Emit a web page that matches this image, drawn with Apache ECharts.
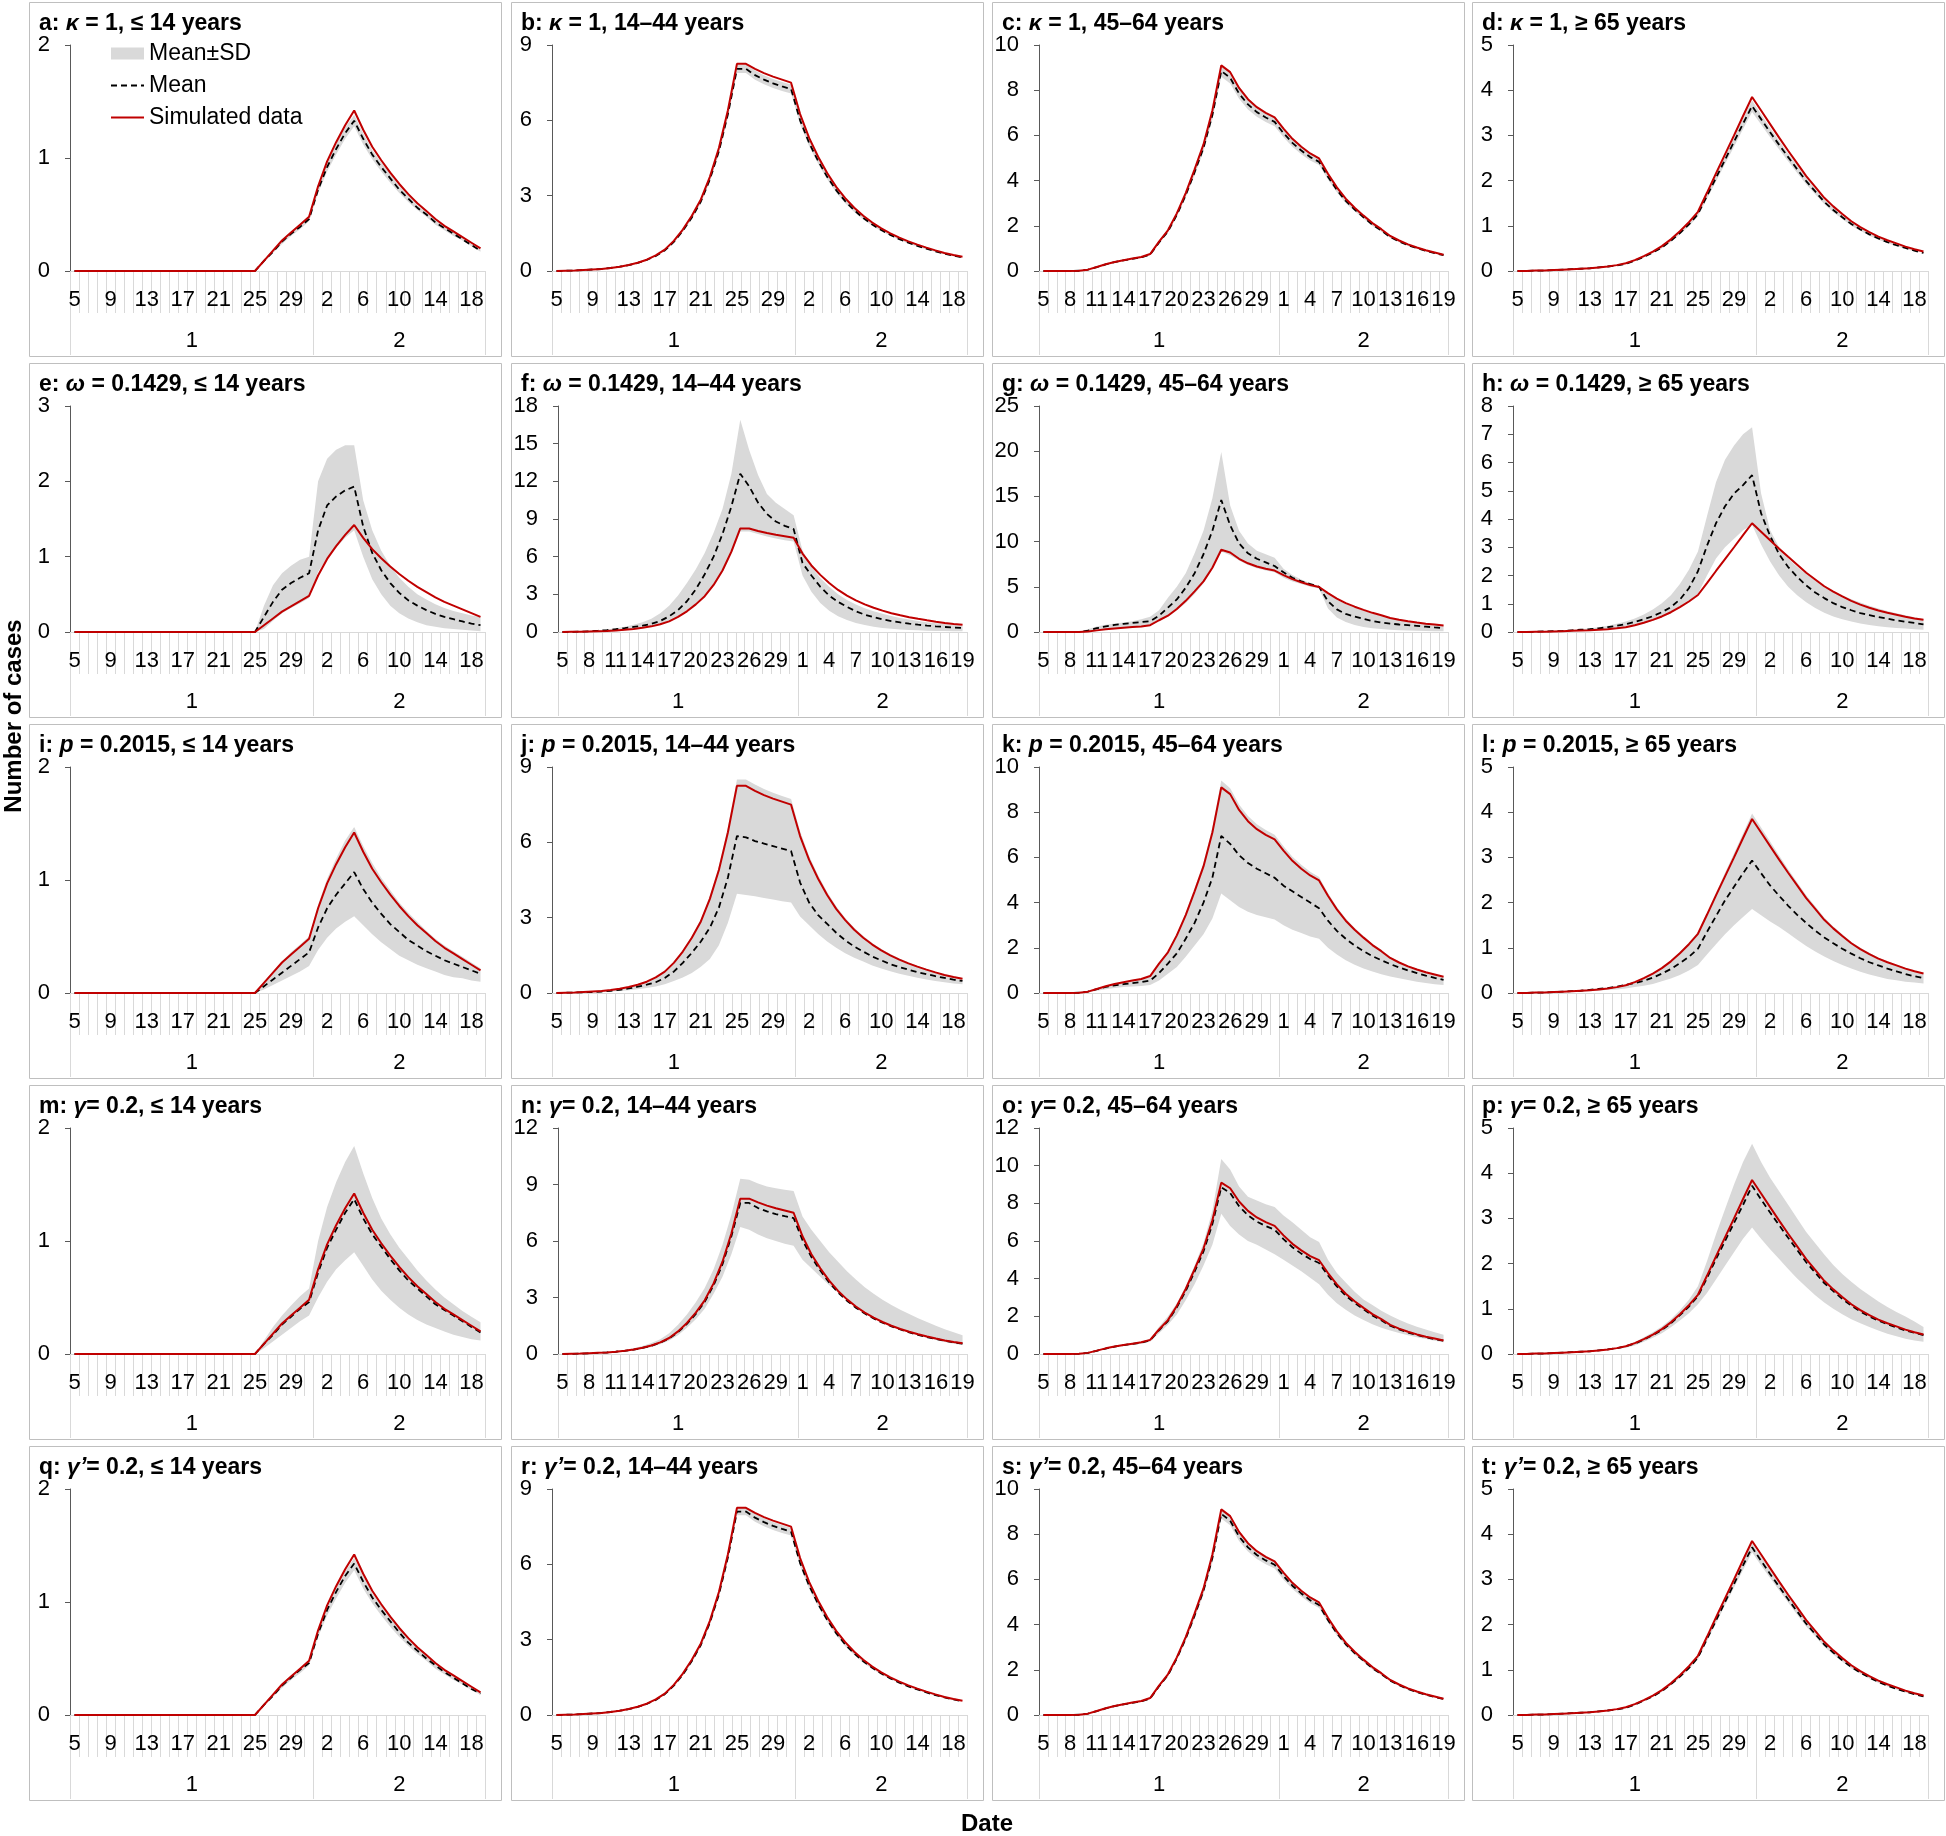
<!DOCTYPE html>
<html><head><meta charset="utf-8">
<script src="https://cdn.jsdelivr.net/npm/echarts/dist/echarts.min.js"></script>
<style>html,body{margin:0;padding:0;background:#fff}#c{width:1946px;height:1836px}</style>
</head><body><div id="c"></div><script>
// ---- categories / tick labels ----
const days=['5','6','7','8','9','10','11','12','13','14','15','16','17','18','19','20','21','22','23','24','25','26','27','28','29','30','31','1','2','3','4','5','6','7','8','9','10','11','12','13','14','15','16','17','18','19'];
const months=['1','2'];
const monthStart=[0,27];
const ageLabels=['≤ 14 years','14–44 years','45–64 years','≥ 65 years'];
const paramSym=['κ','ω','p','γ','γ’'];
const paramEq=[' = 1',' = 0.1429',' = 0.2015','= 0.2','= 0.2'];
const panelIds=['a','b','c','d','e','f','g','h','i','j','k','l','m','n','o','p','q','r','s','t'];
const yMax=[2,9,10,5, 3,18,25,8, 2,9,10,5, 2,12,12,5, 2,9,10,5];
const yStep=[1,3,2,1, 1,3,5,1, 1,3,2,1, 1,3,2,1, 1,3,2,1];
const labelEvery=[4,4,3,4, 4,3,3,4, 4,4,3,4, 4,3,3,4, 4,4,3,4];

// ---- simulated data (same for every row, one per age group) ----
const sim1=[0,0,0,0,0,0,0,0,0,0, 0,0,0,0,0,0,0,0,0,0, 0,0.09,0.18,0.27,0.34,0.41,0.48,0.75,0.97,1.14, 1.29,1.42,1.25,1.10,0.98,0.87,0.77,0.68,0.60,0.53, 0.46,0.40,0.35,0.30,0.25,0.20];
const sim2=[0,0.01,0.02,0.04,0.06,0.08,0.12,0.17,0.24,0.33, 0.45,0.62,0.85,1.2,1.65,2.2,2.85,3.75,4.9,6.4, 8.25,8.25,8.05,7.88,7.74,7.62,7.5,6.25,5.3,4.55, 3.9,3.35,2.9,2.52,2.2,1.93,1.7,1.5,1.33,1.18, 1.05,0.93,0.82,0.72,0.64,0.57];
const sim3=[0,0,0,0,0.01,0.06,0.18,0.3,0.4,0.48, 0.55,0.62,0.75,1.3,1.8,2.55,3.45,4.5,5.6,7.1, 9.1,8.8,8.1,7.6,7.25,7.0,6.8,6.3,5.85,5.5, 5.2,4.98,4.3,3.7,3.2,2.8,2.45,2.12,1.85,1.55, 1.35,1.18,1.04,0.92,0.82,0.72];
const sim4=[0,0,0.01,0.01,0.02,0.03,0.04,0.05,0.06,0.08, 0.1,0.13,0.17,0.24,0.33,0.43,0.55,0.7,0.88,1.08, 1.31,1.73,2.16,2.58,3.0,3.43,3.85,3.55,3.25,2.95, 2.66,2.38,2.1,1.86,1.62,1.43,1.26,1.1,0.97,0.86, 0.76,0.68,0.61,0.54,0.48,0.43];

// ---- row 1: kappa = 1 ----
const aMean=[0,0,0,0,0,0,0,0,0,0, 0,0,0,0,0,0,0,0,0,0, 0,0.09,0.17,0.26,0.33,0.39,0.46,0.72,0.92,1.08, 1.22,1.33,1.17,1.03,0.92,0.82,0.72,0.64,0.56,0.5, 0.43,0.38,0.33,0.28,0.23,0.18];
const aLo=[0,0,0,0,0,0,0,0,0,0, 0,0,0,0,0,0,0,0,0,0, 0,0.08,0.16,0.24,0.31,0.37,0.44,0.69,0.88,1.03, 1.17,1.28,1.12,0.99,0.88,0.78,0.69,0.61,0.54,0.48, 0.41,0.36,0.31,0.27,0.22,0.17];
const aHi=[0,0,0,0,0,0,0,0,0,0, 0,0,0,0,0,0,0,0,0,0, 0,0.1,0.18,0.28,0.35,0.41,0.48,0.75,0.96,1.13, 1.27,1.38,1.22,1.07,0.96,0.86,0.75,0.67,0.58,0.52, 0.45,0.4,0.35,0.29,0.24,0.19];
const bMean=[0,0.01,0.02,0.04,0.06,0.08,0.12,0.17,0.23,0.32, 0.44,0.6,0.82,1.16,1.6,2.13,2.77,3.65,4.77,6.25, 8.05,8.05,7.8,7.62,7.47,7.35,7.25,6.0,5.1,4.38, 3.75,3.22,2.78,2.42,2.11,1.85,1.63,1.44,1.27,1.13, 1.0,0.89,0.78,0.69,0.61,0.54];
const bLo=[0,0.01,0.02,0.04,0.06,0.08,0.12,0.16,0.22,0.31, 0.43,0.58,0.8,1.12,1.55,2.07,2.7,3.55,4.65,6.1, 7.88,7.88,7.62,7.44,7.29,7.17,7.07,5.85,4.97,4.27, 3.65,3.13,2.7,2.35,2.05,1.8,1.58,1.4,1.23,1.1, 0.97,0.86,0.76,0.67,0.59,0.52];
const bHi=[0,0.01,0.02,0.04,0.06,0.08,0.12,0.18,0.24,0.33, 0.45,0.62,0.84,1.2,1.65,2.19,2.84,3.75,4.89,6.4, 8.22,8.22,7.98,7.8,7.65,7.53,7.43,6.15,5.23,4.49, 3.85,3.31,2.86,2.49,2.17,1.9,1.68,1.48,1.31,1.16, 1.03,0.92,0.8,0.71,0.63,0.56];
const cMean=[0,0,0,0,0.01,0.06,0.17,0.29,0.39,0.47, 0.54,0.6,0.73,1.26,1.75,2.48,3.35,4.37,5.45,6.9, 8.85,8.55,7.85,7.37,7.03,6.79,6.6,6.1,5.67,5.33, 5.04,4.83,4.17,3.59,3.1,2.72,2.38,2.05,1.79,1.5, 1.31,1.14,1.01,0.89,0.79,0.7];
const cLo=[0,0,0,0,0.01,0.05,0.16,0.28,0.38,0.45, 0.52,0.58,0.71,1.22,1.7,2.41,3.25,4.24,5.29,6.7, 8.6,8.3,7.62,7.15,6.82,6.59,6.4,5.92,5.5,5.17, 4.89,4.69,4.05,3.48,3.0,2.64,2.31,1.99,1.74,1.46, 1.27,1.11,0.98,0.86,0.77,0.68];
const cHi=[0,0,0,0,0.01,0.06,0.18,0.3,0.4,0.48, 0.56,0.62,0.75,1.3,1.8,2.55,3.45,4.5,5.6,7.1, 9.1,8.8,8.08,7.59,7.24,6.99,6.8,6.28,5.84,5.49, 5.19,4.97,4.29,3.7,3.19,2.8,2.45,2.11,1.84,1.55, 1.35,1.17,1.04,0.92,0.81,0.72];
const dMean=[0,0,0.01,0.01,0.02,0.03,0.04,0.05,0.06,0.08, 0.1,0.12,0.16,0.23,0.31,0.41,0.52,0.67,0.84,1.03, 1.26,1.66,2.06,2.46,2.86,3.26,3.65,3.36,3.07,2.79, 2.52,2.25,1.99,1.76,1.53,1.35,1.19,1.04,0.92,0.81, 0.72,0.64,0.57,0.51,0.45,0.4];
const dLo=[0,0,0.01,0.01,0.02,0.03,0.04,0.05,0.06,0.08, 0.1,0.12,0.15,0.22,0.3,0.39,0.5,0.64,0.81,0.99, 1.21,1.6,1.98,2.37,2.75,3.14,3.52,3.24,2.96,2.69, 2.43,2.17,1.92,1.7,1.48,1.3,1.15,1.0,0.89,0.78, 0.69,0.62,0.55,0.49,0.43,0.38];
const dHi=[0,0,0.01,0.01,0.02,0.03,0.04,0.05,0.06,0.08, 0.1,0.13,0.17,0.24,0.32,0.43,0.54,0.7,0.87,1.07, 1.3,1.71,2.13,2.54,2.96,3.37,3.77,3.47,3.17,2.88, 2.6,2.33,2.06,1.82,1.58,1.4,1.23,1.08,0.95,0.84, 0.75,0.66,0.59,0.53,0.47,0.42];

// ---- row 2: omega = 0.1429 ----
const eMean=[0,0,0,0,0,0,0,0,0,0, 0,0,0,0,0,0,0,0,0,0, 0,0.2,0.4,0.56,0.65,0.72,0.78,1.35,1.68,1.8, 1.88,1.93,1.4,1.05,0.82,0.65,0.52,0.42,0.35,0.29, 0.24,0.2,0.17,0.14,0.11,0.09];
const eLo=[0,0,0,0,0,0,0,0,0,0, 0,0,0,0,0,0,0,0,0,0, 0,0.04,0.15,0.25,0.32,0.38,0.45,0.8,0.98,1.12, 1.25,1.35,1.0,0.7,0.5,0.35,0.25,0.18,0.13,0.09, 0.07,0.05,0.04,0.03,0.02,0.01];
const eHi=[0,0,0,0,0,0,0,0,0,0, 0,0,0,0,0,0,0,0,0,0, 0,0.35,0.62,0.78,0.88,0.96,1.0,2.0,2.3,2.42, 2.48,2.48,1.75,1.35,1.08,0.88,0.72,0.6,0.5,0.43, 0.37,0.32,0.28,0.25,0.22,0.2];
const fMean=[0,0.01,0.03,0.06,0.1,0.15,0.22,0.3,0.4,0.5, 0.65,0.88,1.25,1.75,2.45,3.4,4.6,6.0,7.8,10.0, 12.6,11.6,10.3,9.4,8.8,8.45,8.2,5.5,4.5,3.6, 2.9,2.4,2.0,1.65,1.38,1.18,1.0,0.87,0.76,0.66, 0.58,0.51,0.45,0.4,0.36,0.32];
const fLo=[0,0.01,0.02,0.04,0.07,0.1,0.15,0.2,0.27,0.35, 0.45,0.6,0.82,1.15,1.6,2.15,2.8,3.65,4.75,6.2, 8.0,8.0,7.8,7.6,7.45,7.3,7.2,4.5,3.2,2.3, 1.7,1.25,0.95,0.72,0.55,0.42,0.32,0.25,0.2,0.16, 0.13,0.1,0.08,0.07,0.06,0.05];
const fHi=[0,0.02,0.05,0.09,0.14,0.2,0.3,0.42,0.58,0.78, 1.05,1.5,2.1,2.9,3.9,5.0,6.3,7.9,9.8,12.6, 16.9,14.5,12.5,11.0,10.3,9.8,9.3,6.5,5.2,4.3, 3.6,3.0,2.55,2.2,1.9,1.65,1.45,1.28,1.12,1.0, 0.88,0.78,0.7,0.63,0.56,0.5];
const gMean=[0,0,0,0,0.01,0.15,0.42,0.62,0.78,0.9, 1.0,1.1,1.2,1.8,2.7,3.6,4.9,6.5,8.6,11.2, 14.6,11.8,9.8,8.7,8.1,7.7,7.3,6.6,6.0,5.6, 5.3,5.0,3.4,2.5,2.0,1.7,1.45,1.22,1.05,0.93, 0.83,0.75,0.67,0.59,0.51,0.44];
const gLo=[0,0,0,0,0,0.05,0.2,0.3,0.4,0.48, 0.55,0.62,0.72,1.2,1.7,2.4,3.2,4.2,5.4,7.0, 8.9,8.5,7.9,7.4,7.05,6.8,6.6,6.0,5.6,5.3, 5.0,4.8,2.6,1.6,1.1,0.78,0.56,0.42,0.32,0.25, 0.2,0.16,0.13,0.11,0.09,0.08];
const gHi=[0,0,0,0,0.02,0.3,0.6,0.8,0.95,1.05, 1.2,1.4,1.7,2.4,3.8,5.0,6.5,8.7,11.2,14.8, 19.9,14.0,11.2,9.8,9.0,8.6,8.2,7.0,6.3,5.8, 5.4,5.1,4.2,3.6,3.1,2.7,2.35,2.05,1.8,1.58, 1.38,1.22,1.08,0.96,0.85,0.75];
const hMean=[0,0,0.01,0.02,0.03,0.04,0.06,0.08,0.1,0.13, 0.17,0.22,0.28,0.36,0.45,0.56,0.7,0.88,1.15,1.55, 2.15,3.05,3.85,4.45,4.9,5.2,5.55,4.2,3.4,2.75, 2.3,1.95,1.65,1.4,1.2,1.02,0.88,0.77,0.67,0.6, 0.53,0.47,0.41,0.36,0.32,0.27];
const hLo=[0,0,0.01,0.01,0.02,0.03,0.04,0.05,0.06,0.08, 0.1,0.13,0.17,0.23,0.31,0.4,0.52,0.66,0.86,1.08, 1.35,2.0,2.6,3.0,3.3,3.6,3.8,3.1,2.5,2.0, 1.6,1.3,1.05,0.85,0.68,0.55,0.45,0.37,0.3,0.25, 0.2,0.17,0.14,0.12,0.1,0.08];
const hHi=[0,0.01,0.01,0.02,0.04,0.05,0.07,0.1,0.13,0.17, 0.22,0.29,0.37,0.48,0.62,0.8,1.02,1.3,1.7,2.2, 2.85,4.1,5.3,6.1,6.6,7.0,7.25,4.9,3.6,3.0, 2.6,2.3,2.05,1.82,1.62,1.45,1.3,1.16,1.04,0.93, 0.83,0.74,0.66,0.59,0.52,0.46];

// ---- row 3: p = 0.2015 ----
const iMean=[0,0,0,0,0,0,0,0,0,0, 0,0,0,0,0,0,0,0,0,0, 0,0.06,0.12,0.18,0.24,0.3,0.36,0.58,0.75,0.87, 0.97,1.07,0.92,0.8,0.7,0.61,0.54,0.47,0.42,0.37, 0.33,0.29,0.26,0.23,0.2,0.17];
const iLo=[0,0,0,0,0,0,0,0,0,0, 0,0,0,0,0,0,0,0,0,0, 0,0.03,0.07,0.11,0.15,0.19,0.24,0.38,0.49,0.57, 0.63,0.68,0.6,0.52,0.45,0.39,0.33,0.29,0.25,0.22, 0.19,0.16,0.14,0.13,0.11,0.1];
const iHi=[0,0,0,0,0,0,0,0,0,0, 0,0,0,0,0,0,0,0,0,0, 0,0.1,0.19,0.28,0.36,0.43,0.5,0.78,1.01,1.19, 1.35,1.47,1.3,1.15,1.02,0.91,0.8,0.71,0.63,0.55, 0.48,0.42,0.37,0.32,0.27,0.22];
const jMean=[0,0.01,0.02,0.03,0.04,0.06,0.09,0.13,0.18,0.25, 0.33,0.43,0.6,0.85,1.2,1.6,2.05,2.6,3.4,4.6, 6.25,6.2,6.05,5.95,5.85,5.75,5.65,4.4,3.6,3.1, 2.75,2.4,2.1,1.85,1.65,1.45,1.3,1.15,1.03,0.93, 0.83,0.75,0.67,0.6,0.53,0.48];
const jLo=[0,0,0.01,0.02,0.03,0.04,0.06,0.08,0.11,0.15, 0.2,0.26,0.35,0.48,0.62,0.8,1.05,1.35,1.9,2.8, 3.95,3.9,3.85,3.78,3.72,3.65,3.6,3.05,2.7,2.35, 2.05,1.8,1.58,1.4,1.25,1.1,0.98,0.87,0.77,0.69, 0.61,0.54,0.48,0.43,0.38,0.35];
const jHi=[0,0.01,0.02,0.04,0.06,0.08,0.12,0.18,0.25,0.34, 0.46,0.64,0.88,1.24,1.7,2.27,2.94,3.86,5.05,6.6, 8.5,8.5,8.3,8.12,7.97,7.85,7.73,6.44,5.46,4.69, 4.02,3.45,2.99,2.6,2.27,1.99,1.75,1.55,1.37,1.22, 1.08,0.96,0.84,0.74,0.66,0.59];
const kMean=[0,0,0,0,0.01,0.06,0.17,0.27,0.34,0.39, 0.44,0.48,0.55,0.88,1.3,1.75,2.4,3.1,4.0,5.1, 6.95,6.6,6.1,5.75,5.5,5.3,5.1,4.75,4.5,4.25, 4.0,3.75,3.2,2.75,2.4,2.1,1.85,1.63,1.45,1.28, 1.13,1.0,0.88,0.77,0.67,0.58];
const kLo=[0,0,0,0,0,0.03,0.1,0.17,0.22,0.26, 0.29,0.31,0.35,0.55,0.85,1.15,1.6,2.1,2.6,3.3, 4.4,4.1,3.8,3.6,3.45,3.35,3.25,3.0,2.8,2.65, 2.5,2.4,2.0,1.7,1.45,1.25,1.08,0.95,0.83,0.73, 0.65,0.57,0.5,0.44,0.39,0.35];
const kHi=[0,0,0,0,0.01,0.06,0.19,0.31,0.41,0.49, 0.57,0.64,0.77,1.34,1.85,2.63,3.55,4.64,5.77,7.31, 9.4,9.06,8.34,7.83,7.47,7.21,7.0,6.49,6.03,5.67, 5.36,5.13,4.43,3.81,3.3,2.88,2.52,2.18,1.91,1.6, 1.39,1.22,1.07,0.95,0.84,0.74];
const lMean=[0,0,0.01,0.01,0.02,0.03,0.04,0.05,0.07,0.09, 0.11,0.14,0.18,0.22,0.27,0.34,0.43,0.53,0.66,0.8, 0.98,1.35,1.7,2.05,2.35,2.65,2.93,2.65,2.38,2.15, 1.93,1.73,1.55,1.38,1.23,1.1,0.98,0.87,0.77,0.68, 0.61,0.54,0.48,0.42,0.37,0.33];
const lLo=[0,0,0.01,0.01,0.01,0.02,0.02,0.03,0.04,0.05, 0.07,0.08,0.1,0.13,0.16,0.2,0.26,0.32,0.4,0.5, 0.62,0.85,1.08,1.3,1.5,1.68,1.86,1.72,1.58,1.46, 1.32,1.18,1.04,0.92,0.81,0.71,0.62,0.54,0.47,0.41, 0.36,0.31,0.28,0.25,0.23,0.21];
const lHi=[0,0,0.01,0.01,0.02,0.03,0.04,0.05,0.06,0.08, 0.1,0.13,0.18,0.25,0.34,0.44,0.57,0.72,0.91,1.11, 1.35,1.78,2.22,2.66,3.09,3.53,3.97,3.66,3.35,3.04, 2.74,2.45,2.16,1.92,1.67,1.47,1.3,1.13,1.0,0.89, 0.78,0.7,0.63,0.56,0.49,0.44];

// ---- row 4: gamma = 0.2 ----
const mMean=[0,0,0,0,0,0,0,0,0,0, 0,0,0,0,0,0,0,0,0,0, 0,0.09,0.17,0.26,0.33,0.4,0.46,0.72,0.94,1.1, 1.25,1.37,1.2,1.06,0.95,0.84,0.74,0.65,0.58,0.51, 0.44,0.39,0.34,0.29,0.24,0.19];
const mLo=[0,0,0,0,0,0,0,0,0,0, 0,0,0,0,0,0,0,0,0,0, 0,0.05,0.11,0.17,0.23,0.29,0.34,0.5,0.64,0.75, 0.83,0.9,0.78,0.66,0.56,0.48,0.41,0.35,0.3,0.26, 0.23,0.2,0.17,0.15,0.13,0.12];
const mHi=[0,0,0,0,0,0,0,0,0,0, 0,0,0,0,0,0,0,0,0,0, 0,0.12,0.24,0.34,0.43,0.51,0.58,1.0,1.3,1.52, 1.7,1.84,1.6,1.38,1.2,1.06,0.94,0.84,0.74,0.65, 0.57,0.5,0.44,0.38,0.33,0.28];
const nMean=[0,0.01,0.02,0.04,0.06,0.08,0.12,0.17,0.23,0.32, 0.44,0.6,0.82,1.16,1.6,2.13,2.77,3.65,4.77,6.25, 8.02,8.02,7.75,7.57,7.43,7.32,7.22,6.05,5.15,4.43, 3.8,3.27,2.83,2.46,2.15,1.89,1.66,1.47,1.3,1.15, 1.02,0.9,0.8,0.7,0.62,0.55];
const nLo=[0,0.01,0.02,0.03,0.05,0.07,0.1,0.14,0.2,0.27, 0.37,0.52,0.72,1.0,1.4,1.85,2.4,3.2,4.1,5.3, 6.75,6.6,6.35,6.15,6.0,5.85,5.75,5.0,4.55,4.1, 3.65,3.25,2.9,2.55,2.25,1.97,1.72,1.5,1.3,1.13, 0.98,0.85,0.74,0.64,0.55,0.48];
const nHi=[0,0.01,0.03,0.05,0.07,0.1,0.14,0.2,0.3,0.42, 0.58,0.78,1.1,1.55,2.1,2.75,3.5,4.5,5.8,7.4, 9.3,9.25,9.05,8.9,8.8,8.72,8.65,7.3,6.6,6.0, 5.4,4.9,4.4,3.95,3.55,3.2,2.88,2.6,2.35,2.12, 1.9,1.7,1.5,1.32,1.15,1.0];
const oMean=[0,0,0,0,0.01,0.06,0.17,0.29,0.39,0.47, 0.54,0.6,0.73,1.26,1.75,2.48,3.35,4.37,5.45,6.9, 8.85,8.55,7.85,7.37,7.03,6.79,6.6,6.1,5.67,5.33, 5.04,4.83,4.17,3.59,3.1,2.72,2.38,2.05,1.79,1.5, 1.31,1.14,1.01,0.89,0.79,0.7];
const oLo=[0,0,0,0,0.01,0.05,0.15,0.26,0.35,0.42, 0.48,0.54,0.65,1.1,1.55,2.1,2.85,3.7,4.7,5.8, 7.45,6.8,6.35,6.0,5.8,5.55,5.3,5.0,4.7,4.4, 4.05,3.7,3.15,2.7,2.35,2.05,1.8,1.58,1.4,1.25, 1.12,1.0,0.89,0.8,0.71,0.63];
const oHi=[0,0,0,0,0.02,0.07,0.2,0.32,0.42,0.5, 0.57,0.64,0.8,1.45,2.0,2.7,3.6,4.7,5.9,7.6, 10.35,9.8,8.9,8.35,8.15,7.95,7.8,7.35,7.0,6.6, 6.2,5.95,5.0,4.3,3.8,3.3,2.9,2.6,2.3,2.05, 1.82,1.62,1.45,1.3,1.15,1.02];
const pMean=[0,0,0.01,0.01,0.02,0.03,0.04,0.05,0.06,0.08, 0.1,0.13,0.17,0.23,0.32,0.42,0.53,0.68,0.86,1.05, 1.28,1.68,2.1,2.5,2.9,3.3,3.72,3.42,3.13,2.85, 2.57,2.3,2.03,1.8,1.57,1.39,1.22,1.07,0.94,0.83, 0.74,0.66,0.59,0.52,0.47,0.42];
const pLo=[0,0,0.01,0.01,0.02,0.03,0.03,0.04,0.05,0.07, 0.08,0.11,0.14,0.19,0.27,0.36,0.46,0.59,0.74,0.9, 1.1,1.35,1.65,1.95,2.25,2.55,2.8,2.55,2.32,2.1, 1.88,1.67,1.48,1.3,1.14,1.0,0.88,0.77,0.68,0.6, 0.52,0.45,0.39,0.34,0.3,0.27];
const pHi=[0,0,0.01,0.01,0.02,0.03,0.04,0.06,0.07,0.09, 0.11,0.14,0.19,0.26,0.37,0.48,0.61,0.77,0.97,1.2, 1.5,2.05,2.65,3.2,3.75,4.25,4.65,4.25,3.9,3.6, 3.3,3.0,2.7,2.45,2.2,1.97,1.77,1.6,1.44,1.3, 1.16,1.04,0.93,0.83,0.72,0.6];

// ---- row 5: gamma' = 0.2 ----
const qMean=[0,0,0,0,0,0,0,0,0,0, 0,0,0,0,0,0,0,0,0,0, 0,0.09,0.17,0.26,0.33,0.4,0.46,0.72,0.93,1.09, 1.23,1.34,1.18,1.04,0.93,0.83,0.73,0.64,0.57,0.5, 0.44,0.38,0.33,0.28,0.23,0.19];
const qLo=[0,0,0,0,0,0,0,0,0,0, 0,0,0,0,0,0,0,0,0,0, 0,0.08,0.16,0.24,0.31,0.37,0.44,0.69,0.88,1.03, 1.17,1.28,1.12,0.99,0.88,0.78,0.69,0.61,0.54,0.48, 0.41,0.36,0.31,0.27,0.22,0.18];
const qHi=[0,0,0,0,0,0,0,0,0,0, 0,0,0,0,0,0,0,0,0,0, 0,0.1,0.18,0.28,0.35,0.41,0.48,0.75,0.96,1.13, 1.27,1.39,1.23,1.08,0.97,0.86,0.76,0.67,0.59,0.52, 0.45,0.4,0.35,0.3,0.25,0.2];
const rMean=[0,0.01,0.02,0.04,0.06,0.08,0.12,0.17,0.23,0.32, 0.44,0.6,0.83,1.17,1.61,2.15,2.79,3.68,4.8,6.28, 8.1,8.1,7.86,7.68,7.53,7.41,7.3,6.05,5.15,4.42, 3.79,3.26,2.81,2.45,2.14,1.88,1.65,1.46,1.29,1.14, 1.02,0.9,0.79,0.7,0.62,0.55];
const rLo=[0,0.01,0.02,0.04,0.06,0.08,0.12,0.16,0.22,0.31, 0.43,0.58,0.81,1.13,1.57,2.09,2.72,3.58,4.69,6.14, 7.95,7.95,7.7,7.52,7.37,7.25,7.15,5.92,5.03,4.32, 3.7,3.18,2.74,2.39,2.08,1.83,1.61,1.42,1.26,1.11, 0.99,0.88,0.77,0.68,0.6,0.53];
const rHi=[0,0.01,0.02,0.04,0.06,0.08,0.12,0.18,0.24,0.33, 0.45,0.62,0.85,1.21,1.66,2.21,2.86,3.78,4.92,6.43, 8.25,8.25,8.02,7.84,7.69,7.57,7.45,6.18,5.27,4.52, 3.88,3.34,2.88,2.51,2.2,1.93,1.69,1.5,1.32,1.17, 1.05,0.92,0.81,0.72,0.64,0.57];
const sMean=[0,0,0,0,0.01,0.06,0.17,0.29,0.39,0.47, 0.54,0.6,0.73,1.27,1.76,2.5,3.38,4.4,5.5,6.95, 8.9,8.6,7.9,7.42,7.08,6.84,6.65,6.15,5.72,5.38, 5.08,4.87,4.2,3.62,3.13,2.74,2.4,2.07,1.81,1.52, 1.32,1.15,1.02,0.9,0.8,0.71];
const sLo=[0,0,0,0,0.01,0.05,0.16,0.28,0.38,0.45, 0.52,0.58,0.71,1.23,1.71,2.43,3.28,4.27,5.33,6.75, 8.7,8.4,7.7,7.23,6.9,6.67,6.48,5.99,5.57,5.24, 4.95,4.74,4.09,3.52,3.05,2.67,2.33,2.01,1.76,1.48, 1.28,1.12,0.99,0.87,0.78,0.69];
const sHi=[0,0,0,0,0.01,0.06,0.18,0.3,0.4,0.48, 0.56,0.62,0.75,1.3,1.8,2.56,3.46,4.52,5.64,7.12, 9.08,8.78,8.08,7.6,7.25,7.0,6.81,6.3,5.86,5.51, 5.2,4.98,4.3,3.71,3.2,2.8,2.45,2.12,1.85,1.55, 1.35,1.17,1.04,0.92,0.81,0.72];
const tMean=[0,0,0.01,0.01,0.02,0.03,0.04,0.05,0.06,0.08, 0.1,0.12,0.16,0.23,0.32,0.41,0.53,0.68,0.85,1.04, 1.27,1.68,2.09,2.5,2.9,3.31,3.71,3.41,3.12,2.84, 2.56,2.29,2.02,1.79,1.56,1.38,1.21,1.06,0.94,0.83, 0.73,0.65,0.58,0.52,0.46,0.41];
const tLo=[0,0,0.01,0.01,0.02,0.03,0.04,0.05,0.06,0.08, 0.1,0.12,0.15,0.22,0.31,0.4,0.51,0.66,0.82,1.01, 1.23,1.63,2.03,2.43,2.82,3.21,3.6,3.31,3.03,2.76, 2.49,2.22,1.96,1.74,1.51,1.34,1.18,1.03,0.91,0.8, 0.71,0.63,0.56,0.5,0.44,0.39];
const tHi=[0,0,0.01,0.01,0.02,0.03,0.04,0.05,0.06,0.08, 0.1,0.13,0.17,0.24,0.33,0.43,0.55,0.7,0.88,1.07, 1.31,1.72,2.15,2.56,2.98,3.4,3.8,3.5,3.2,2.91, 2.63,2.36,2.08,1.84,1.6,1.42,1.25,1.09,0.96,0.85, 0.75,0.67,0.6,0.53,0.47,0.42];

const simByCol=[sim1,sim2,sim3,sim4];
const meanSeries=[aMean,bMean,cMean,dMean,eMean,fMean,gMean,hMean,iMean,jMean,kMean,lMean,mMean,nMean,oMean,pMean,qMean,rMean,sMean,tMean];
const loSeries=[aLo,bLo,cLo,dLo,eLo,fLo,gLo,hLo,iLo,jLo,kLo,lLo,mLo,nLo,oLo,pLo,qLo,rLo,sLo,tLo];
const hiSeries=[aHi,bHi,cHi,dHi,eHi,fHi,gHi,hHi,iHi,jHi,kHi,lHi,mHi,nHi,oHi,pHi,qHi,rHi,sHi,tHi];

// ---- layout ----
const W=1946;
const FONT='"Liberation Sans", Arial, Helvetica, sans-serif';
const colLeft=[29,511,992,1472], boxW=472;
const rowTop=[2,363,724,1085,1446], boxH=354;

const monthCats=days.map(()=> '');
months.forEach((m,i)=>{const s=monthStart[i], e=(i+1<monthStart.length?monthStart[i+1]:days.length); monthCats[Math.floor((s+e-1)/2)]=m;});

const option={animation:false,backgroundColor:'#fff',textStyle:{fontFamily:FONT},
  title:[],grid:[],xAxis:[],yAxis:[],series:[],
  legend:{data:[{name:'Mean±SD',icon:'rect',itemStyle:{color:'#d9d9d9',opacity:1,borderWidth:0}},{name:'Mean'},{name:'Simulated data'}],
    orient:'vertical',left:105,top:37,itemWidth:33,itemHeight:12,itemGap:9,selectedMode:false,
    itemStyle:{opacity:0,borderWidth:0},
    textStyle:{fontSize:23,color:'#000',fontFamily:FONT}},
  graphic:[]};

panelIds.forEach((id,k)=>{
  const r=Math.floor(k/4), c=k%4;
  const bx=colLeft[c], by=rowTop[r];
  const left=bx+(yMax[k]>=10?47:41);
  option.graphic.push({type:'rect',silent:true,z:-1,shape:{x:bx+0.5,y:by+0.5,width:boxW,height:boxH},style:{fill:'none',stroke:'#bfbfbf',lineWidth:1}});
  option.grid.push({left:left,right:W-(bx+456),top:by+43,height:226});
  option.title.push({left:bx+5,top:by+5,
    text:'{b|'+id+': }{i|'+paramSym[r]+'}{b|'+paramEq[r]+', '+ageLabels[c]+'}',
    textStyle:{rich:{b:{fontSize:23,fontWeight:'bold',color:'#000',fontFamily:FONT},i:{fontSize:23,fontWeight:'bold',fontStyle:'italic',color:'#000',fontFamily:FONT}}}});
  option.xAxis.push({type:'category',gridIndex:k,data:days,boundaryGap:true,position:'bottom',
    axisLine:{show:true,lineStyle:{color:'#d9d9d9',width:1}},
    axisTick:{show:true,interval:0,length:42,lineStyle:{color:'#d9d9d9'}},
    axisLabel:{interval:labelEvery[k]-1,fontSize:22,color:'#000',margin:18,fontFamily:FONT},splitLine:{show:false}});
  option.xAxis.push({type:'category',gridIndex:k,data:monthCats,boundaryGap:true,position:'bottom',
    axisLine:{show:false},
    axisTick:{show:true,interval:(i)=>monthStart.indexOf(i)>=0,length:84,lineStyle:{color:'#d9d9d9'}},
    axisLabel:{interval:0,fontSize:22,color:'#000',margin:59,fontFamily:FONT},splitLine:{show:false}});
  option.yAxis.push({type:'value',gridIndex:k,min:0,max:yMax[k],interval:yStep[k],
    axisLine:{show:true,lineStyle:{color:'#595959'}},
    axisTick:{show:true,length:5,lineStyle:{color:'#595959'}},
    splitLine:{show:false},axisLabel:{fontSize:22,color:'#000',margin:20,fontFamily:FONT}});
  const lo=loSeries[k], hi=hiSeries[k];
  const diff=hi.map((v,i)=>Math.max(0,Math.round((v-lo[i])*1000)/1000));
  const base={type:'line',xAxisIndex:2*k,yAxisIndex:k,symbol:'none',showSymbol:false,silent:true,animation:false};
  option.series.push(Object.assign({},base,{name:'_lo',data:lo,stack:'band'+k,color:'#d9d9d9',lineStyle:{width:0},z:1}));
  option.series.push(Object.assign({},base,{name:'Mean±SD',data:diff,stack:'band'+k,color:'#d9d9d9',lineStyle:{width:0},areaStyle:{color:'#d9d9d9',opacity:1},z:1}));
  option.series.push(Object.assign({},base,{name:'Mean',data:meanSeries[k],color:'#000',lineStyle:{color:'#000',width:1.8,type:[6,4]},z:3}));
  option.series.push(Object.assign({},base,{name:'Simulated data',data:simByCol[c],color:'#c00000',lineStyle:{color:'#c00000',width:2},z:4}));
});

option.graphic.push({type:'text',x:14,y:716,rotation:Math.PI/2,silent:true,style:{text:'Number of cases',font:'bold 24px '+FONT,fill:'#000',align:'center',verticalAlign:'middle'}});
option.graphic.push({type:'text',x:987,y:1824,silent:true,style:{text:'Date',font:'bold 24px '+FONT,fill:'#000',align:'center',verticalAlign:'middle'}});

const chart=echarts.init(document.getElementById('c'),null,{renderer:'canvas',width:1946,height:1836});
chart.setOption(option);
</script></body></html>
